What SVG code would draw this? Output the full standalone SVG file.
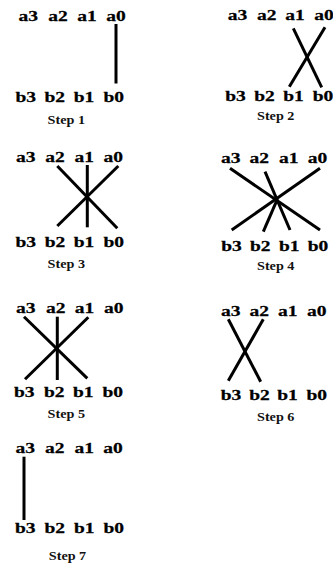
<svg xmlns="http://www.w3.org/2000/svg" width="333" height="564" viewBox="0 0 333 564">
<style>
text{font-family:"Liberation Serif","Times New Roman",serif;font-weight:bold;fill:#000;text-anchor:middle}
.v{font-size:15px;stroke:#000;stroke-width:0.25}
.s{font-size:13.5px;fill:#111}
.c line{stroke:#000;stroke-width:3;stroke-linecap:butt}
</style>
<rect width="333" height="564" fill="#fff"/>
<g id="step1">
<text class="v" transform="translate(28.3,20.5) scale(1.3,1)">a3</text>
<text class="v" transform="translate(58,20.5) scale(1.3,1)">a2</text>
<text class="v" transform="translate(87,20.5) scale(1.3,1)">a1</text>
<text class="v" transform="translate(116,20.5) scale(1.3,1)">a0</text>
<text class="v" transform="translate(25.8,101.5) scale(1.3,1)">b3</text>
<text class="v" transform="translate(54.7,101.5) scale(1.3,1)">b2</text>
<text class="v" transform="translate(84,101.5) scale(1.3,1)">b1</text>
<text class="v" transform="translate(113.7,101.5) scale(1.3,1)">b0</text>
<text class="s" transform="translate(66.3,124) scale(1.05,1)">Step 1</text>
</g>
<g id="step2">
<text class="v" transform="translate(237.5,20) scale(1.3,1)">a3</text>
<text class="v" transform="translate(266.7,20) scale(1.3,1)">a2</text>
<text class="v" transform="translate(295,20) scale(1.3,1)">a1</text>
<text class="v" transform="translate(324,20) scale(1.3,1)">a0</text>
<text class="v" transform="translate(235.5,100.5) scale(1.3,1)">b3</text>
<text class="v" transform="translate(264.5,100.5) scale(1.3,1)">b2</text>
<text class="v" transform="translate(293.5,100.5) scale(1.3,1)">b1</text>
<text class="v" transform="translate(323,100.5) scale(1.3,1)">b0</text>
<text class="s" transform="translate(275.7,120) scale(1.05,1)">Step 2</text>
</g>
<g id="step3">
<text class="v" transform="translate(25.8,161.7) scale(1.3,1)">a3</text>
<text class="v" transform="translate(55,161.7) scale(1.3,1)">a2</text>
<text class="v" transform="translate(84.2,161.7) scale(1.3,1)">a1</text>
<text class="v" transform="translate(113.3,161.7) scale(1.3,1)">a0</text>
<text class="v" transform="translate(25.8,246.7) scale(1.3,1)">b3</text>
<text class="v" transform="translate(55,246.7) scale(1.3,1)">b2</text>
<text class="v" transform="translate(84,246.7) scale(1.3,1)">b1</text>
<text class="v" transform="translate(113.7,246.7) scale(1.3,1)">b0</text>
<text class="s" transform="translate(66.3,268) scale(1.05,1)">Step 3</text>
</g>
<g id="step4">
<text class="v" transform="translate(230.8,162.7) scale(1.3,1)">a3</text>
<text class="v" transform="translate(259.2,162.7) scale(1.3,1)">a2</text>
<text class="v" transform="translate(288.8,162.7) scale(1.3,1)">a1</text>
<text class="v" transform="translate(317.5,162.7) scale(1.3,1)">a0</text>
<text class="v" transform="translate(231.5,250.7) scale(1.3,1)">b3</text>
<text class="v" transform="translate(260.2,250.7) scale(1.3,1)">b2</text>
<text class="v" transform="translate(289.2,250.7) scale(1.3,1)">b1</text>
<text class="v" transform="translate(318,250.7) scale(1.3,1)">b0</text>
<text class="s" transform="translate(275.7,270) scale(1.05,1)">Step 4</text>
</g>
<g id="step5">
<text class="v" transform="translate(25.8,312.7) scale(1.3,1)">a3</text>
<text class="v" transform="translate(55.8,312.7) scale(1.3,1)">a2</text>
<text class="v" transform="translate(84.5,312.7) scale(1.3,1)">a1</text>
<text class="v" transform="translate(113.7,312.7) scale(1.3,1)">a0</text>
<text class="v" transform="translate(24.2,397.3) scale(1.3,1)">b3</text>
<text class="v" transform="translate(54.2,397.3) scale(1.3,1)">b2</text>
<text class="v" transform="translate(83.3,397.3) scale(1.3,1)">b1</text>
<text class="v" transform="translate(112.8,397.3) scale(1.3,1)">b0</text>
<text class="s" transform="translate(66.3,418) scale(1.05,1)">Step 5</text>
</g>
<g id="step6">
<text class="v" transform="translate(230.8,316) scale(1.3,1)">a3</text>
<text class="v" transform="translate(259.2,316) scale(1.3,1)">a2</text>
<text class="v" transform="translate(287.8,316) scale(1.3,1)">a1</text>
<text class="v" transform="translate(316.7,316) scale(1.3,1)">a0</text>
<text class="v" transform="translate(231,400) scale(1.3,1)">b3</text>
<text class="v" transform="translate(259.5,400) scale(1.3,1)">b2</text>
<text class="v" transform="translate(287.5,400) scale(1.3,1)">b1</text>
<text class="v" transform="translate(316.7,400) scale(1.3,1)">b0</text>
<text class="s" transform="translate(275.7,421) scale(1.05,1)">Step 6</text>
</g>
<g id="step7">
<text class="v" transform="translate(25.2,452.7) scale(1.3,1)">a3</text>
<text class="v" transform="translate(54.8,452.7) scale(1.3,1)">a2</text>
<text class="v" transform="translate(84.2,452.7) scale(1.3,1)">a1</text>
<text class="v" transform="translate(113,452.7) scale(1.3,1)">a0</text>
<text class="v" transform="translate(25.2,532.7) scale(1.3,1)">b3</text>
<text class="v" transform="translate(54.8,532.7) scale(1.3,1)">b2</text>
<text class="v" transform="translate(84.2,532.7) scale(1.3,1)">b1</text>
<text class="v" transform="translate(113.7,532.7) scale(1.3,1)">b0</text>
<text class="s" transform="translate(67.5,560) scale(1.05,1)">Step 7</text>
</g>
<g id="connectors" class="c">
<line x1="116" y1="24" x2="116" y2="83.5"/>
<line x1="293.3" y1="28.3" x2="321.7" y2="87.3"/>
<line x1="325" y1="27.3" x2="289.3" y2="86.7"/>
<line x1="57.3" y1="166" x2="117.3" y2="228.3"/>
<line x1="118.3" y1="166" x2="57.3" y2="226"/>
<line x1="87.3" y1="165" x2="87.3" y2="227.3"/>
<line x1="230" y1="168.3" x2="320" y2="230"/>
<line x1="265" y1="171.7" x2="290" y2="230"/>
<line x1="320" y1="168.3" x2="231.7" y2="230"/>
<line x1="263.3" y1="231.7" x2="277.3" y2="199.3"/>
<line x1="24" y1="316.7" x2="87.3" y2="378.3"/>
<line x1="57.3" y1="316.7" x2="57.3" y2="380"/>
<line x1="88.3" y1="317.3" x2="25" y2="379.3"/>
<line x1="228.3" y1="319.3" x2="260.7" y2="381.7"/>
<line x1="263.3" y1="319.3" x2="228.3" y2="380.7"/>
<line x1="24" y1="456.7" x2="24" y2="520"/>
</g>
</svg>
